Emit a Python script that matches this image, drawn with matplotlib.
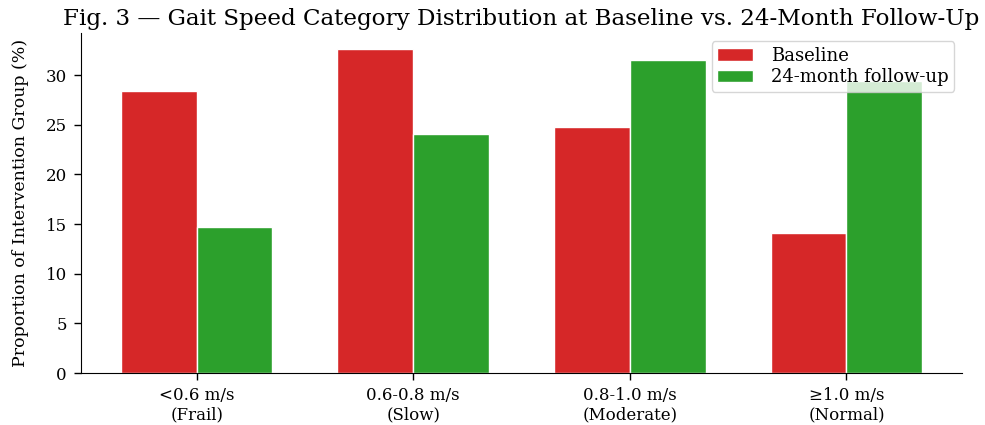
import numpy as np
import matplotlib
matplotlib.use("Agg")
import matplotlib.pyplot as plt

categories = ["<0.6 m/s\n(Frail)", "0.6-0.8 m/s\n(Slow)", "0.8-1.0 m/s\n(Moderate)", "\u22651.0 m/s\n(Normal)"]
baseline = [28.4, 32.6, 24.8, 14.1]
followup = [14.7, 24.1, 31.5, 29.4]

plt.rcParams['font.family'] = ['DejaVu Serif']

fig, ax = plt.subplots(figsize=(9.85, 4.25), dpi=100)
fig.subplots_adjust(left=0.082, right=0.977, bottom=0.122, top=0.922)

x = np.arange(len(categories))
w = 0.35
ax.bar(x - w / 2, baseline, w, color='#d62728', edgecolor='white', linewidth=1, label='Baseline')
ax.bar(x + w / 2, followup, w, color='#2ca02c', edgecolor='white', linewidth=1, label='24-month follow-up')

ax.set_xticks(x)
ax.set_xticklabels(categories, fontsize=12)
ax.tick_params(axis='both', labelsize=12, length=5, width=1, pad=5)
ax.set_ylabel('Proportion of Intervention Group (%)', fontsize=12.5, labelpad=12)
ax.set_title('Fig. 3 \u2014 Gait Speed Category Distribution at Baseline vs. 24-Month Follow-Up',
             fontsize=16.6, pad=6)

ax.spines['top'].set_visible(False)
ax.spines['right'].set_visible(False)
ax.legend(loc='upper right', fontsize=13, labelspacing=0.2, borderpad=0.3,
          borderaxespad=0.45, handletextpad=1.0)

fig.savefig('out.png', dpi=100)
